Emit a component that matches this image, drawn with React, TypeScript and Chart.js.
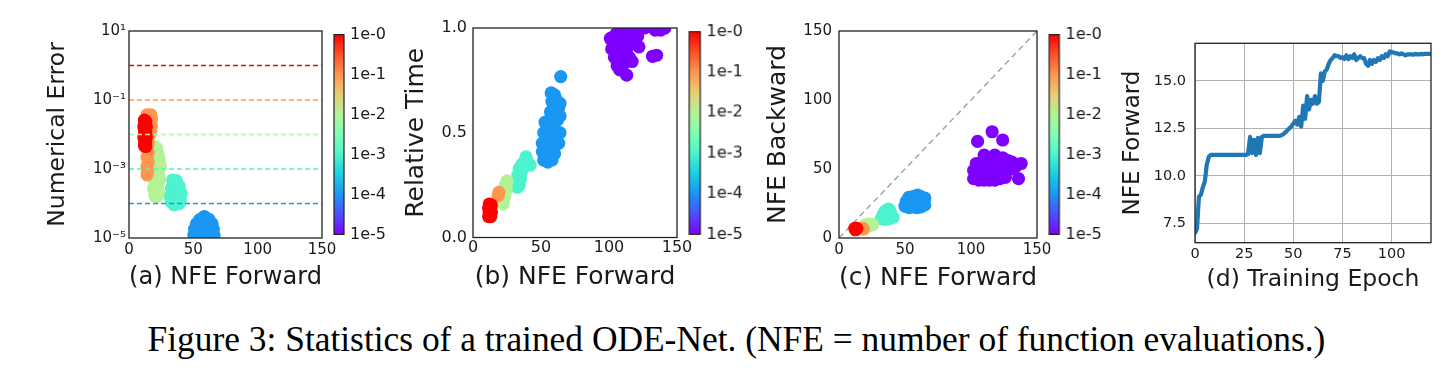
import React, { useEffect, useRef } from 'react';
import { Chart, registerables } from 'chart.js';

Chart.register(...registerables);

type Pt = [number, number];

// ---------------- shared data ----------------
const toleranceTicks = [0, 1, 2, 3, 4, 5];
const toleranceLabels = ['1e-0', '1e-1', '1e-2', '1e-3', '1e-4', '1e-5'];
const colorbarRange = [0, 5];
const toleranceColors = [
  'rgb(255,0,0)',
  'rgb(255,150,79)',
  'rgb(179,243,150)',
  'rgb(77,243,206)',
  'rgb(26,150,243)',
  'rgb(128,0,255)',
];
// rainbow colormap stops, bottom (1e-5) to top (1e-0)
const rainbowStops = [
  'rgb(128,0,255)',
  'rgb(77,79,252)',
  'rgb(26,150,243)',
  'rgb(26,206,227)',
  'rgb(77,243,206)',
  'rgb(128,255,180)',
  'rgb(179,243,150)',
  'rgb(230,206,116)',
  'rgb(255,150,79)',
  'rgb(255,79,40)',
  'rgb(255,0,0)',
];

const nfeRange = [0, 150];
const nfeTicks = [0, 50, 100, 150];
const nfeTickLabels = ['0', '50', '100', '150'];

// ---------------- (a) numerical error ----------------
const errorRange = [1e-5, 10];
const errorTicks = [1e-5, 1e-3, 1e-1, 10];
const errorTickLabels = ['10⁻⁵', '10⁻³', '10⁻¹', '10¹'];
const errorLevels = [1, 0.1, 0.01, 0.001, 0.0001];

const errTol0: Pt[] = [[12, 0.026], [13, 0.024], [12.5, 0.02], [11.5, 0.017], [13.5, 0.017], [12, 0.013], [13, 0.012], [12.5, 0.01], [11.5, 0.0085], [13.5, 0.0085], [12, 0.007], [13, 0.0065], [12.5, 0.0055], [12, 0.0048], [13, 0.0045]];
const errTol1: Pt[] = [[14, 0.037], [17, 0.037], [15.5, 0.033], [17.5, 0.028], [14, 0.027], [16.5, 0.022], [17.5, 0.018], [15, 0.018], [17, 0.013], [16, 0.01], [14, 0.012], [14.5, 0.0075], [15, 0.0055], [14, 0.004], [15, 0.003], [14, 0.0022], [15, 0.0016], [14, 0.0012], [14.5, 0.0009], [14, 0.00068]];
const errTol2: Pt[] = [[20, 0.0045], [21.5, 0.004], [19, 0.003], [22.5, 0.0028], [20.5, 0.002], [23.5, 0.0019], [19, 0.0014], [22, 0.0013], [24.5, 0.0012], [20, 0.0009], [23, 0.0008], [19, 0.0006], [21.5, 0.00055], [24, 0.0005], [20, 0.0004], [22.5, 0.00035], [19, 0.00027], [21, 0.00022], [23, 0.00022], [20, 0.00017], [22, 0.00016]];
const errTol3: Pt[] = [[34, 0.00048], [37, 0.00045], [35.5, 0.00035], [39, 0.00032], [33, 0.00028], [37, 0.00025], [40.5, 0.0002], [34, 0.0002], [38, 0.00016], [32, 0.00016], [36, 0.00013], [40, 0.00013], [33, 0.00011], [37, 0.0001], [35, 0.000092], [39, 0.0001]];
const errTol4: Pt[] = [[58.5, 4.2e-5], [55, 3.4e-5], [62, 3.5e-5], [52.5, 2.6e-5], [58, 2.8e-5], [64.5, 2.6e-5], [51, 1.8e-5], [55, 1.9e-5], [60, 2e-5], [65.5, 1.8e-5], [50.5, 1.2e-5], [54, 1.2e-5], [58, 1.3e-5], [62, 1.2e-5], [66, 1.2e-5], [52, 8e-6], [56, 8e-6], [60, 8e-6], [64, 8e-6]];

// ---------------- (b) relative time ----------------
const timeRange = [0, 1];
const timeTicks = [0, 0.5, 1];
const timeTickLabels = ['0.0', '0.5', '1.0'];

const timeTol0: Pt[] = [[11.5, 0.1], [13, 0.1], [12, 0.12], [13.5, 0.12], [11.5, 0.14], [13, 0.14], [12, 0.16], [13.5, 0.155]];
const timeTol1: Pt[] = [[18.5, 0.2], [19, 0.215]];
const timeTol2: Pt[] = [[22, 0.16], [22.5, 0.18], [23.5, 0.2], [23, 0.22], [24.5, 0.23], [24, 0.25], [25, 0.27], [23.5, 0.24]];
const timeTol3: Pt[] = [[32.5, 0.24], [34, 0.25], [32, 0.27], [35, 0.28], [33, 0.3], [35.5, 0.31], [34, 0.33], [36.5, 0.34], [38.5, 0.37], [39, 0.385], [40.5, 0.36], [42, 0.345], [38, 0.35], [36, 0.35]];
const timeTol4: Pt[] = [[52, 0.37], [55, 0.36], [58, 0.37], [51, 0.41], [54, 0.4], [57, 0.41], [60, 0.4], [51, 0.45], [54, 0.46], [57, 0.45], [60, 0.46], [63, 0.45], [52, 0.5], [55, 0.51], [58, 0.5], [61, 0.51], [64, 0.5], [53, 0.55], [56, 0.56], [59, 0.55], [62, 0.56], [64, 0.58], [57, 0.6], [60, 0.61], [63, 0.62], [58, 0.65], [61, 0.66], [64, 0.64], [57.5, 0.69], [60, 0.68], [64.5, 0.768]];
const timeTol5: Pt[] = [[101, 0.95], [102, 0.9], [104, 0.86], [106, 0.82], [105, 0.97], [106, 0.92], [109, 0.99], [110, 0.94], [110, 0.88], [111, 0.83], [114, 0.97], [114, 0.91], [115, 0.86], [118, 0.99], [118, 0.93], [117, 0.84], [121, 0.96], [122, 0.91], [113, 0.775], [126, 1.0], [130, 1.01], [134, 0.99], [138, 0.99], [141, 1.0], [135, 0.87], [132, 0.865], [108, 0.8], [110, 1.02], [120, 1.02]];

// ---------------- (c) NFE backward ----------------
const backRange = [0, 150];
const backTicks = [0, 50, 100, 150];
const backTickLabels = ['0', '50', '100', '150'];
const diagonal: Pt[] = [[0, 0], [150, 150]];

const backTol0: Pt[] = [[12, 7], [13.5, 7], [12.5, 6]];
const backTol1: Pt[] = [[18, 7], [18.5, 6.5]];
const backTol2: Pt[] = [[20, 9.5], [22, 10], [24, 10], [25.5, 9.5], [22, 8.5]];
const backTol3: Pt[] = [[32, 14], [35, 13.5], [38, 14], [41, 15], [33.5, 17], [36.5, 17], [39.5, 17.5], [37.5, 21], [35, 19.5], [38.5, 20]];
const backTol4: Pt[] = [[50, 23], [53, 22], [56, 22.5], [59, 22], [62, 22.5], [65, 24], [51, 26.5], [54, 26], [57, 26.5], [60, 26], [63, 27.5], [65, 29], [53, 29.5], [56, 30], [59.5, 31], [62, 30]];
const backTol5: Pt[] = [[102, 43], [106, 42], [110, 42], [114, 42], [118, 42], [122, 43], [126, 44], [102, 49], [106, 49], [110, 49], [114, 49], [118, 49], [122, 49], [126, 49], [130, 50], [134, 52], [138, 54], [104, 54], [108, 55], [112, 56], [116, 57], [120, 58], [124, 58], [128, 56], [131, 55], [110, 60], [118, 60], [136, 43], [105, 70], [116, 77], [124, 71]];

// ---------------- (d) training ----------------
const epochRange = [0, 120];
const epochTicks = [0, 25, 50, 75, 100];
const epochTickLabels = ['0', '25', '50', '75', '100'];
const nfeFwdRange = [6.48, 16.98];
const nfeFwdTicks = [7.5, 10, 12.5, 15];
const nfeFwdTickLabels = ['7.5', '10.0', '12.5', '15.0'];
const nfeForwardByEpoch = [
  7.0, 7.2, 8.9, 9.0, 9.4, 9.7, 10.6, 11.0, 11.1, 11.1,
  11.1, 11.1, 11.1, 11.1, 11.1, 11.1, 11.1, 11.1, 11.1, 11.1,
  11.1, 11.1, 11.1, 11.1, 11.1, 11.1, 11.1, 11.15, 12.05, 11.2,
  11.9, 11.1, 12.0, 11.2, 12.05, 12.1, 12.1, 12.1, 12.1, 12.1,
  12.1, 12.1, 12.1, 12.1, 12.15, 12.2, 12.3, 12.4, 12.5, 12.6,
  12.75, 12.9, 12.7, 13.1, 12.6, 13.7, 13.0, 14.2, 13.5, 14.0,
  13.8, 14.2, 13.8, 13.9, 15.4, 15.0, 15.5, 15.6, 15.9, 16.1,
  16.2, 16.35, 16.3, 16.3, 16.2, 16.25, 16.15, 16.35, 16.15, 16.3,
  16.2, 16.4, 16.1, 16.2, 16.3, 16.2, 16.2, 15.9, 15.8, 16.1,
  15.9, 16.1, 16.0, 16.2, 16.1, 16.3, 16.2, 16.4, 16.3, 16.55,
  16.5, 16.5, 16.45, 16.45, 16.4, 16.45, 16.4, 16.35, 16.4, 16.4,
  16.4, 16.38, 16.42, 16.4, 16.4, 16.42, 16.4, 16.43, 16.42, 16.42,
  16.43,
];

// ---------------- styling helpers ----------------
const FONT = 'DejaVu Sans';
const INK = '#1a1a1a';

const framePlugin = {
  id: 'frame',
  afterDatasetsDraw(chart: any, _args: any, opts: any) {
    const { ctx, chartArea: a } = chart;
    if (!a) return;
    ctx.save();
    ctx.strokeStyle = (opts && opts.color) || '#222';
    ctx.lineWidth = (opts && opts.width) || 1.3;
    ctx.strokeRect(a.left, a.top, a.right - a.left, a.bottom - a.top);
    ctx.restore();
  },
};

interface AxisOpt {
  type?: string;
  position?: string;
  range: number[];
  ticks: number[];
  labels: string[];
  title?: string;
  titleSize?: number;
  titlePad?: number;
  tickSize: number;
  tickPad: number;
  size: number;
  horizontal: boolean;
  grid?: boolean;
  reverse?: boolean;
}

function axis(o: AxisOpt) {
  return {
    type: o.type || 'linear',
    position: o.position || (o.horizontal ? 'bottom' : 'left'),
    min: o.range[0],
    max: o.range[1],
    reverse: !!o.reverse,
    afterBuildTicks: (s: any) => {
      s.ticks = o.ticks.map((v) => ({ value: v }));
    },
    afterFit: (s: any) => {
      if (o.horizontal) s.height = o.size;
      else s.width = o.size;
    },
    ticks: {
      autoSkip: false,
      maxRotation: 0,
      minRotation: 0,
      padding: o.tickPad,
      color: INK,
      font: { family: FONT, size: o.tickSize },
      callback: (_v: any, i: number) => o.labels[i],
    },
    grid: o.grid
      ? { display: true, color: '#b0b0b0', lineWidth: 1, drawTicks: false }
      : { display: false, drawTicks: false },
    border: { display: false },
    title: o.title
      ? {
          display: true,
          text: o.title,
          color: INK,
          font: { family: FONT, size: o.titleSize },
          padding: o.horizontal ? { top: 0, bottom: o.titlePad } : { top: o.titlePad, bottom: 0 },
        }
      : { display: false },
  };
}

function cloud(data: Pt[], color: string) {
  return {
    data: data.map(([x, y]) => ({ x, y })),
    pointBackgroundColor: color,
    backgroundColor: color,
    pointBorderWidth: 0,
    borderWidth: 0,
    pointRadius: 6.6,
    pointHoverRadius: 6.6,
    clip: 0,
  };
}

function segment(data: Pt[], color: string, dash: number[], width: number) {
  return {
    data: data.map(([x, y]) => ({ x, y })),
    showLine: true,
    borderColor: color,
    borderWidth: width,
    borderDash: dash,
    pointRadius: 0,
    pointHoverRadius: 0,
    clip: 0,
  };
}

function scatterConfig(datasets: any[], x: AxisOpt, y: AxisOpt, padding: any) {
  return {
    type: 'scatter',
    data: { datasets },
    options: {
      responsive: false,
      animation: false,
      events: [],
      layout: { padding },
      plugins: {
        legend: { display: false },
        tooltip: { enabled: false },
        frame: { color: '#222', width: 1.3 },
      },
      scales: { x: axis(x), y: axis(y) },
    },
    plugins: [framePlugin],
  };
}

function colorbarConfig() {
  return {
    type: 'bar',
    data: {
      labels: [''],
      datasets: [
        {
          data: [colorbarRange],
          backgroundColor: (c: any) => {
            const chart = c.chart;
            const a = chart.chartArea;
            if (!a) return 'transparent';
            const g = chart.ctx.createLinearGradient(0, a.bottom, 0, a.top);
            rainbowStops.forEach((col, i) => g.addColorStop(i / (rainbowStops.length - 1), col));
            return g;
          },
          borderWidth: 0,
          barPercentage: 1,
          categoryPercentage: 1,
        },
      ],
    },
    options: {
      responsive: false,
      animation: false,
      events: [],
      layout: { padding: { left: 10, right: 0, top: 12, bottom: 12 } },
      plugins: {
        legend: { display: false },
        tooltip: { enabled: false },
        frame: { color: '#222', width: 1.2 },
      },
      scales: {
        x: { display: false },
        y: axis({
          position: 'right',
          range: colorbarRange,
          ticks: toleranceTicks,
          labels: toleranceLabels,
          tickSize: 16,
          tickPad: 6,
          size: 50,
          horizontal: false,
          reverse: true,
        }),
      },
    },
    plugins: [framePlugin],
  };
}

// ---------------- panel configs ----------------
function configA() {
  const lines = errorLevels.map((lvl, i) =>
    segment([[nfeRange[0], lvl], [nfeRange[1], lvl]], toleranceColors[i], [5, 3], 1.3)
  );
  const clouds = [errTol0, errTol1, errTol2, errTol3, errTol4].map((d, i) => cloud(d, toleranceColors[i]));
  return scatterConfig(
    [...lines, ...clouds],
    { range: nfeRange, ticks: nfeTicks, labels: nfeTickLabels, title: '(a) NFE Forward', titleSize: 25.5, titlePad: 5, tickSize: 15, tickPad: 2.7, size: 60, horizontal: true },
    { type: 'logarithmic', range: errorRange, ticks: errorTicks, labels: errorTickLabels, title: 'Numerical Error', titleSize: 23.5, titlePad: 13.9, tickSize: 15, tickPad: 3, size: 99, horizontal: false },
    { left: 0, top: 31, right: 20, bottom: 2 }
  );
}

function configB() {
  const clouds = [timeTol0, timeTol1, timeTol2, timeTol3, timeTol4, timeTol5].map((d, i) => cloud(d, toleranceColors[i]));
  return scatterConfig(
    clouds,
    { range: nfeRange, ticks: nfeTicks, labels: nfeTickLabels, title: '(b) NFE Forward', titleSize: 25, titlePad: 5.5, tickSize: 16, tickPad: 1, size: 60, horizontal: true },
    { range: timeRange, ticks: timeTicks, labels: timeTickLabels, title: 'Relative Time', titleSize: 25, titlePad: 21.7, tickSize: 16, tickPad: 6, size: 93, horizontal: false },
    { left: 0, top: 28, right: 20, bottom: 2.5 }
  );
}

function configC() {
  const clouds = [backTol0, backTol1, backTol2, backTol3, backTol4, backTol5].map((d, i) => cloud(d, toleranceColors[i]));
  return scatterConfig(
    [...clouds, segment(diagonal, '#a0a0a0', [6, 4], 1.4)],
    { range: nfeRange, ticks: nfeTicks, labels: nfeTickLabels, title: '(c) NFE Forward', titleSize: 25, titlePad: 5, tickSize: 15, tickPad: 3.3, size: 60, horizontal: true },
    { range: backRange, ticks: backTicks, labels: backTickLabels, title: 'NFE Backward', titleSize: 25, titlePad: 23.3, tickSize: 15, tickPad: 7, size: 99, horizontal: false },
    { left: 0, top: 31, right: 20, bottom: 2 }
  );
}

function configD() {
  const trace: Pt[] = nfeForwardByEpoch.map((v, i) => [i, v]);
  const line = {
    data: trace.map(([x, y]) => ({ x, y })),
    showLine: true,
    borderColor: '#1f77b4',
    borderWidth: 4.2,
    borderJoinStyle: 'round',
    borderCapStyle: 'round',
    pointRadius: 0,
    pointHoverRadius: 0,
    tension: 0,
  };
  return scatterConfig(
    [line],
    { range: epochRange, ticks: epochTicks, labels: epochTickLabels, title: '(d) Training Epoch', titleSize: 23.5, titlePad: 3.9, tickSize: 14.5, tickPad: 2.6, size: 55.3, horizontal: true, grid: true },
    { range: nfeFwdRange, ticks: nfeFwdTicks, labels: nfeFwdTickLabels, title: 'NFE Forward', titleSize: 23, titlePad: 19.2, tickSize: 14.5, tickPad: 9, size: 95, horizontal: false, grid: true },
    { left: 0, top: 43.3, right: 12, bottom: 2 }
  );
}

// ---------------- components ----------------
function ChartBox({ x, y, w, h, make }: { x: number; y: number; w: number; h: number; make: () => any }) {
  const ref = useRef<HTMLCanvasElement | null>(null);
  useEffect(() => {
    if (!ref.current) return;
    const chart = new Chart(ref.current, make());
    return () => chart.destroy();
  }, []);
  return (
    <canvas
      ref={ref}
      width={w}
      height={h}
      style={{ position: 'absolute', left: x, top: y, width: w, height: h, display: 'block' }}
    />
  );
}

function colorbarBox(L: number, R: number, T: number, B: number) {
  return { x: L - 10, y: T - 12, w: 10 + (R - L) + 50, h: B - T + 24 };
}

export default function App() {
  const cbA = colorbarBox(334, 344, 31, 238);
  const cbB = colorbarBox(689.3, 701, 28.3, 237.7);
  const cbC = colorbarBox(1049.3, 1060, 31, 238.3);
  return (
    <div style={{ position: 'fixed', left: 0, top: 0, width: 1450, height: 380, background: '#fff', overflow: 'hidden' }}>
      <ChartBox x={30} y={0} w={312} h={300} make={configA} />
      <ChartBox x={380} y={0} w={317} h={300} make={configB} />
      <ChartBox x={740} y={0} w={317} h={300} make={configC} />
      <ChartBox x={1100} y={0} w={343} h={300} make={configD} />
      <ChartBox x={cbA.x} y={cbA.y} w={cbA.w} h={cbA.h} make={colorbarConfig} />
      <ChartBox x={cbB.x} y={cbB.y} w={cbB.w} h={cbB.h} make={colorbarConfig} />
      <ChartBox x={cbC.x} y={cbC.y} w={cbC.w} h={cbC.h} make={colorbarConfig} />
      <div
        style={{
          position: 'absolute',
          left: 0,
          top: 319,
          width: 1473,
          textAlign: 'center',
          fontFamily: '"Liberation Serif", "Times New Roman", serif',
          fontSize: 35.4,
          lineHeight: '40px',
          whiteSpace: 'nowrap',
          color: '#000',
        }}
      >
        Figure 3: Statistics of a trained ODE-Net. (NFE = number of function evaluations.)
      </div>
    </div>
  );
}
